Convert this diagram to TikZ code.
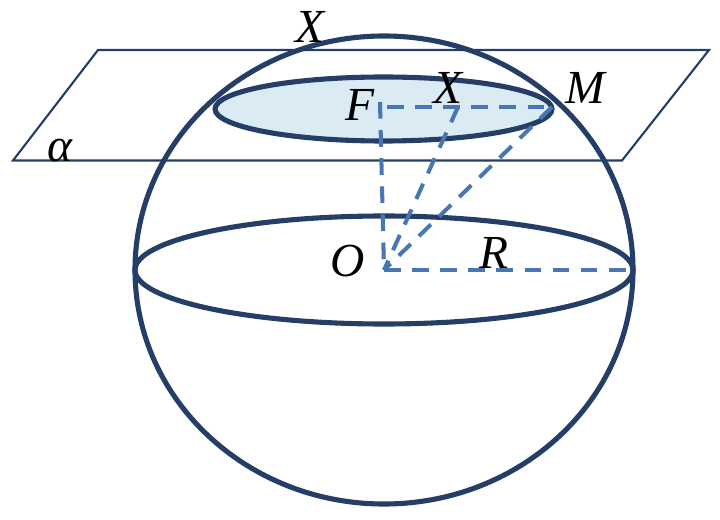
\documentclass[tikz,border=0pt]{standalone}
\usepackage{fontspec}
\setmainfont{Liberation Serif}
\usepackage{tikz}
\definecolor{navy}{RGB}{36,62,104}
\definecolor{planeblue}{RGB}{36,62,104}
\definecolor{dashblue}{RGB}{72,118,176}
\definecolor{capblue}{RGB}{218,235,243}
\tikzset{
	circleline/.style={draw=navy, line width=2.9pt},
	planeline/.style={draw=planeblue, line width=1.2pt},
	dashline/.style={draw=dashblue, line width=2.3pt, dash pattern=on 9.5pt off 6.5pt},
	letter/.style={font=\itshape\fontsize{27}{27}\selectfont, text=black, inner sep=0pt}
}
\begin{document}
\begin{tikzpicture}[x=0.02cm, y=-0.02cm]
	\useasboundingbox (0,0) rectangle (720,520);
	% Plane
	\coordinate (pa) at (98,50);
	\coordinate (pb) at (709,50);
	\coordinate (pc) at (622,160.5);
	\coordinate (pd) at (13,160.5);
	\draw[planeline] (pa) -- (pb) -- (pc) -- (pd) -- cycle;
	% Sphere and sections
	\coordinate (O) at (384,270);
	\coordinate (F) at (380,102);
	\coordinate (Fr) at (387,107);
	\coordinate (X1) at (458,107);
	\coordinate (M) at (552,107);
	\coordinate (E) at (633,270);
	\draw[circleline] (O) ellipse [x radius=249, y radius=234];
	\draw[circleline] (O) ellipse [x radius=249, y radius=54];
	\draw[circleline, fill=capblue] (383.5,109) ellipse [x radius=168.5, y radius=32];
	% Dashed radii
	\draw[dashline] (F) -- (O);
	\draw[dashline] (Fr) -- (M);
	\draw[dashline] (X1) -- (O);
	\draw[dashline] (M) -- (O);
	\draw[dashline] (O) -- (E);
	% Labels
	\node[letter] (lx) at (310,27) {X};
	\node[letter] (lf) at (360,105) {F};
	\node[letter] (lxx) at (448,88) {X};
	\node[letter] (lm) at (585,88) {M};
	\node[letter] (lo) at (348,261) {O};
	\node[letter] (lr) at (494,253) {R};
	\node[letter] (la) at (60,151) {α};
\end{tikzpicture}
\end{document}
